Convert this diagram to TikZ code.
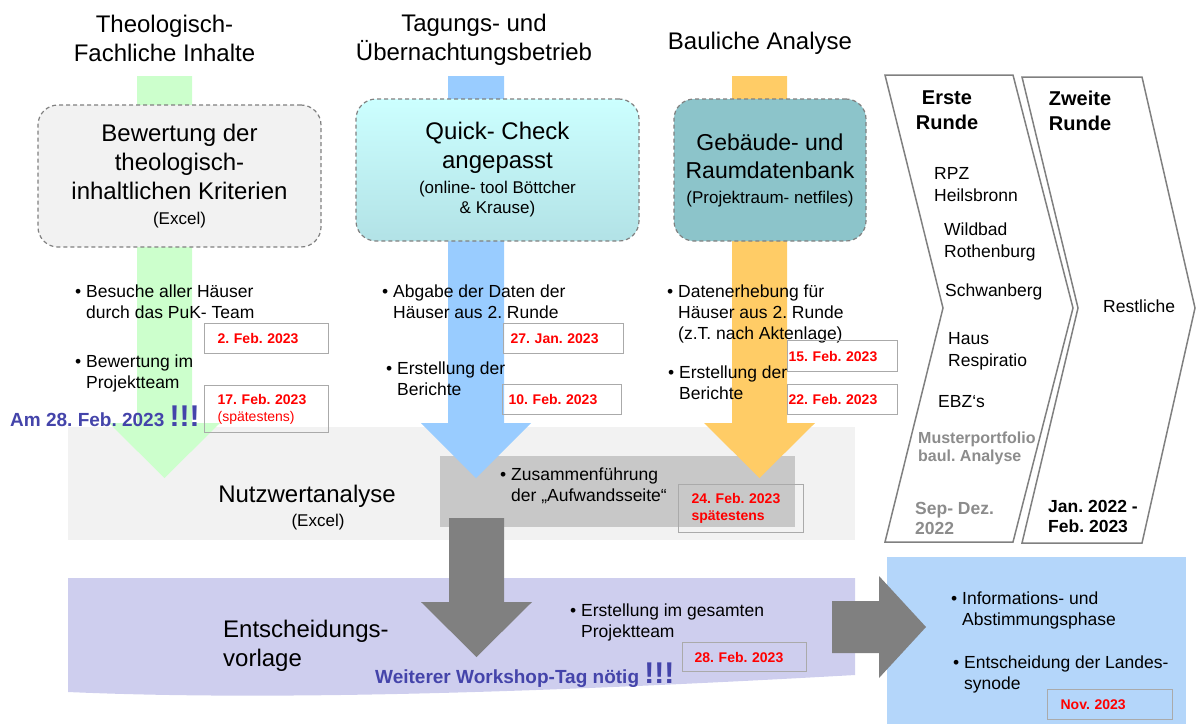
\documentclass[tikz,border=0pt]{standalone}
\usepackage{fontspec}
\setmainfont{Liberation Sans}
\usetikzlibrary{positioning}

\definecolor{greenarr}{RGB}{204,255,204}
\definecolor{bluearr}{RGB}{153,204,255}
\definecolor{orangearr}{RGB}{255,204,102}
\definecolor{greyarr}{RGB}{128,128,128}
\definecolor{panelgrey}{RGB}{242,242,242}
\definecolor{innergrey}{RGB}{200,200,200}
\definecolor{lilac}{RGB}{206,206,238}
\definecolor{skyblue}{RGB}{180,214,250}
\definecolor{cyantop}{RGB}{204,255,255}
\definecolor{cyanbot}{RGB}{178,226,230}
\definecolor{tealbox}{RGB}{140,196,202}
\definecolor{deadred}{RGB}{255,0,0}
\definecolor{notice}{RGB}{68,68,170}
\definecolor{mutedtxt}{RGB}{140,140,140}
\definecolor{edgegrey}{RGB}{128,128,128}
\definecolor{dateedge}{RGB}{170,170,170}

\newcommand{\smalltxt}{\fontsize{17}{20}\selectfont}
\newcommand{\bul}{\llap{\textbullet\hspace{5pt}}}
\newcommand{\bang}{{\fontsize{30}{30}\selectfont!!!}}

\begin{document}
\frenchspacing
\begin{tikzpicture}[
    x=1pt, y=-1pt,
    hd/.style={font=\fontsize{24}{29}\selectfont, align=center, inner sep=0pt},
    topic/.style={rectangle, rounded corners=20pt, draw=edgegrey, line width=1.2pt,
      dash pattern=on 4pt off 3pt, align=center, inner sep=0pt,
      font=\fontsize{24}{29}\selectfont},
    item/.style={anchor=west, align=left, inner sep=0pt, font=\fontsize{17.5}{21}\selectfont},
    house/.style={item, font=\fontsize{17.5}{22}\selectfont},
    due/.style={rectangle, draw=dateedge, line width=1.2pt, anchor=north west, align=left,
      inner ysep=0pt, font=\fontsize{14}{17}\selectfont\bfseries, text=deadred},
    notice/.style={anchor=base west, inner sep=0pt, font=\fontsize{19}{23}\selectfont\bfseries,
      text=notice},
    round/.style={font=\fontsize{20}{25}\selectfont\bfseries, align=center, inner sep=0pt},
    chev/.style={draw=edgegrey, line width=1.5pt, fill=white},
  ]
  \useasboundingbox (0,0) rectangle (1196,724);

  % background panels
  \fill[panelgrey] (68,427) rectangle (855,540);
  \fill[innergrey] (440,456) rectangle (795,527);
  \fill[lilac] (68,578) -- (855,578) -- (855,675) .. controls (500,695) and (250,700) .. (68,692) -- cycle;
  \fill[skyblue] (887,557) rectangle (1186,724);

  % block arrows
  \fill[greenarr] (137,76) -- (192,76) -- (192,423) -- (220,423) -- (164.5,478) -- (109,423) -- (137,423) -- cycle;
  \fill[bluearr] (448,76) -- (504,76) -- (504,423) -- (531,423) -- (476,478) -- (421,423) -- (448,423) -- cycle;
  \fill[orangearr] (732,76) -- (787,76) -- (787,423) -- (815,423) -- (759.5,478) -- (704,423) -- (732,423) -- cycle;
  \fill[greyarr] (449,518) -- (504,518) -- (504,602) -- (532,602) -- (476.5,657) -- (421,602) -- (449,602) -- cycle;
  \fill[greyarr] (832,601) -- (879,601) -- (879,576) -- (926,627) -- (879,678) -- (879,653) -- (832,653) -- cycle;

  % column heads
  \node[hd] (hTheo) at (164.5,38.5) {Theologisch-\\Fachliche Inhalte};
  \node[hd] (hTag)  at (474,39.5)   {Tagungs- und\\Übernachtungsbetrieb};
  \node[hd] (hBau)  at (760,43)     {Bauliche Analyse};

  % tools
  \node[topic, fill=panelgrey, minimum width=283pt, minimum height=142pt] (theo) at (179.5,176)
    {Bewertung der\\theologisch-\\inhaltlichen Kriterien\\[-4pt]{\smalltxt (Excel)}};
  \node[topic, top color=cyantop, bottom color=cyanbot, minimum width=283pt, minimum height=142pt] (qc) at (497.5,170)
    {Quick- Check\\angepasst\\[-4pt]{\smalltxt (online- tool Böttcher}\\[-9pt]{\smalltxt \& Krause)}};
  \node[topic, fill=tealbox, minimum width=192pt, minimum height=142pt, font=\fontsize{23}{28}\selectfont] (db) at (770,170)
    {Gebäude- und\\Raumdatenbank\\[-3pt]{\smalltxt (Projektraum- netfiles)}};

  % steps
  \node[item] (visit)  at (86,302)    {\bul Besuche aller Häuser\\durch das PuK- Team};
  \node[item] (rate)   at (86,373.5)  {\bul Bewertung im\\Projektteam};
  \node[item] (submit) at (393,302)   {\bul Abgabe der Daten der\\Häuser aus 2. Runde};
  \node[item] (repA)   at (397,378.5) {\bul Erstellung der\\Berichte};
  \node[item] (survey) at (678,313.5) {\bul Datenerhebung für\\Häuser aus 2. Runde\\(z.T. nach Aktenlage)};
  \node[item] (repB)   at (679,382.5) {\bul Erstellung der\\Berichte};
  \node[item] (merge)  at (511,485.5) {\bul Zusammenführung\\der „Aufwandsseite“};
  \node[item] (draft)  at (581,622.5) {\bul Erstellung im gesamten\\Projektteam};
  \node[item] (info)   at (962,610.5) {\bul Informations- und\\Abstimmungsphase};
  \node[item] (synod)  at (964,674.5) {\bul Entscheidung der Landes-\\synode};

  % deadlines
  \node[due, text width=98pt,  inner xsep=13pt, minimum height=30pt] (dVisit)  at (204,323)  {2. Feb. 2023};
  \node[due, text width=98pt,  inner xsep=13pt, minimum height=47pt] (dRate)   at (204,385)  {17. Feb. 2023\\{\mdseries (spätestens)}};
  \node[due, text width=106pt, inner xsep=7pt,  minimum height=30pt] (dSubmit) at (503,323)  {27. Jan. 2023};
  \node[due, text width=107pt, inner xsep=6pt,  minimum height=30pt] (dRepA)   at (502,384)  {10. Feb. 2023};
  \node[due, text width=108pt, inner xsep=1pt,  minimum height=31pt] (dSurvey) at (787,340)  {15. Feb. 2023};
  \node[due, text width=108pt, inner xsep=1pt,  minimum height=30pt] (dRepB)   at (787,384)  {22. Feb. 2023};
  \node[due, text width=99pt,  inner xsep=13pt, minimum height=48pt] (dMerge)  at (678,484)  {24. Feb. 2023\\spätestens};
  \node[due, text width=100pt, inner xsep=12pt, minimum height=29pt] (dDraft)  at (682,642)  {28. Feb. 2023};
  \node[due, text width=99pt,  inner xsep=13pt, minimum height=30pt] (dSynod)  at (1047,689) {Nov. 2023};

  \node[notice] (am) at (10,426)  {Am 28. Feb. 2023 \bang};
  \node[notice] (ws) at (375,683) {Weiterer Workshop-Tag nötig \bang};

  % phases
  \node[hd] (nwa) at (307,496) {Nutzwertanalyse};
  \node[inner sep=0pt, font=\smalltxt] (nwaSub) at (318,522) {(Excel)};
  \node[hd, anchor=west, align=left] (ev) at (223,646) {Entscheidungs-\\vorlage};

  % rounds
  \draw[chev] (885,75) -- (1013,75) -- (1073,308) -- (1013,542) -- (885,542) -- (943,308) -- cycle;
  \draw[chev] (1022,77) -- (1142,77) -- (1195,308) -- (1142,543) -- (1022,543) -- (1078,308) -- cycle;

  \node[round] (r1) at (947,110.5)  {Erste\\Runde};
  \node[round] (r2) at (1080,110.5) {Zweite\\Runde};
  \node[house] (rpz)  at (934,184.5) {RPZ\\Heilsbronn};
  \node[house] (wild) at (944,242)   {Wildbad\\Rothenburg};
  \node[house] (schw) at (945,292)   {Schwanberg};
  \node[house] (resp) at (948,351)   {Haus\\Respiratio};
  \node[house] (ebz)  at (938,402)   {EBZ‘s};
  \node[house, font=\fontsize{16}{18}\selectfont\bfseries, text=mutedtxt] (muster) at (918,448) {Musterportfolio\\baul. Analyse};
  \node[house, font=\fontsize{17.5}{20}\selectfont\bfseries, text=mutedtxt] (sep) at (915,518) {Sep- Dez.\\2022};
  \node[house] (rest) at (1103,306) {Restliche};
  \node[house, font=\fontsize{17.5}{20}\selectfont\bfseries] (jan) at (1048,516) {Jan. 2022 -\\Feb. 2023};
\end{tikzpicture}
\end{document}
